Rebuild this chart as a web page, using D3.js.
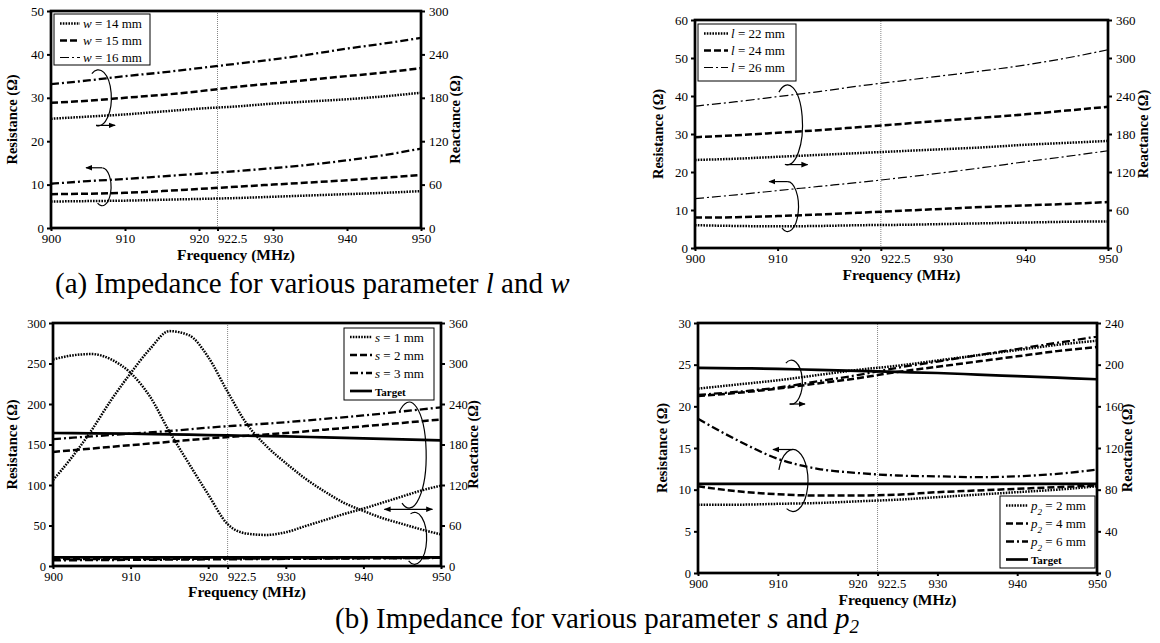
<!DOCTYPE html>
<html>
<head>
<meta charset="utf-8">
<script src="https://cdn.jsdelivr.net/npm/d3@7"></script>
<style>
  body { margin: 0; background: #fff; }
</style>
</head>
<body>
<svg id="fig" width="1160" height="643" font-family="Liberation Serif, DejaVu Serif, serif"></svg>
<script>
const FONT = 'Liberation Serif, DejaVu Serif, serif';

// frequency grids (MHz)
const freqs = [900, 905, 910, 915, 920, 925, 930, 935, 940, 945, 950];
const freqsFine = [900, 902.5, 905, 907.5, 910, 912.5, 915, 917.5, 920, 922.5, 925,
                   927.5, 930, 932.5, 935, 937.5, 940, 942.5, 945, 947.5, 950];
const xTicks = [900, 910, 920, 922.5, 930, 940, 950];

// (a) left: parameter w
const wRes14 = [6.1, 6.2, 6.3, 6.5, 6.7, 6.9, 7.2, 7.5, 7.8, 8.1, 8.5];
const wRes15 = [7.8, 7.9, 8.1, 8.5, 9.0, 9.5, 10.0, 10.5, 11.0, 11.6, 12.2];
const wRes16 = [10.2, 10.8, 11.3, 11.9, 12.5, 13.1, 13.8, 14.6, 15.6, 16.8, 18.3];
const wReact14 = [151, 154, 157, 161, 165, 168, 172, 175, 178, 182, 187];
const wReact15 = [173, 176, 180, 184, 189, 195, 200, 205, 210, 215, 221];
const wReact16 = [199, 204, 210, 215, 221, 227, 233, 240, 248, 255, 263];

// (a) right: parameter l
const lRes22 = [6.0, 5.8, 5.7, 5.8, 6.0, 6.1, 6.3, 6.5, 6.7, 6.9, 7.0];
const lRes24 = [8.0, 8.1, 8.4, 8.8, 9.3, 9.8, 10.3, 10.8, 11.2, 11.6, 12.1];
const lRes26 = [13.0, 14.0, 15.1, 16.2, 17.3, 18.5, 19.8, 21.2, 22.7, 24.1, 25.6];
const lReact22 = [139, 141, 144, 147, 150, 153, 156, 159, 163, 166, 169];
const lReact24 = [175, 178, 182, 186, 191, 196, 201, 206, 211, 217, 223];
const lReact26 = [224, 231, 239, 247, 256, 264, 272, 280, 289, 300, 313];

// (b) left: parameter s
const s1Res = [106, 135, 168, 205, 238, 268, 290, 285, 258, 215, 175,
               148, 127, 108, 92, 78, 68, 59, 52, 45, 39];
const s1React = [306, 312, 314, 306, 286, 251, 199, 152, 106, 62, 48,
                 46, 50, 59, 68, 77, 85, 94, 103, 112, 119];
const sRes2 = [8.5, 8.6, 8.7, 8.8, 9.0, 9.2, 9.3, 9.5, 9.7, 9.9, 10.1];
const sRes3 = [7.0, 7.2, 7.5, 7.8, 8.1, 8.4, 8.7, 9.0, 9.3, 9.6, 10.0];
const sReact2 = [169, 174, 179, 184, 189, 193, 197, 202, 207, 212, 217];
const sReact3 = [188, 192, 196, 200, 205, 209, 213, 218, 223, 229, 235];

// target impedance
const targetRes = [10.7, 10.7, 10.7, 10.7, 10.7, 10.7, 10.7, 10.7, 10.7, 10.7, 10.7];
const targetReact = [197, 196.5, 196, 195, 194, 193, 192, 190.5, 189, 187.5, 186];

// (b) right: parameter p2
const p2Res2 = [8.2, 8.2, 8.3, 8.4, 8.6, 8.8, 9.1, 9.4, 9.7, 10.0, 10.4];
const p2Res4 = [10.4, 9.8, 9.45, 9.3, 9.3, 9.4, 9.7, 9.9, 10.1, 10.3, 10.5];
const p2Res6 = [18.5, 15.9, 13.7, 12.5, 12.0, 11.7, 11.6, 11.5, 11.6, 11.9, 12.4];
const p2React2 = [177, 181, 185, 190, 195, 199, 204, 209, 214, 219, 223];
const p2React4 = [170, 173, 177, 182, 187, 193, 198, 203, 208, 213, 217];
const p2React6 = [171, 174, 178, 184, 190, 197, 203, 209, 215, 221, 227];

const styles = {
  dot:      { w: 2.5, dash: '1.6,1.2' },
  dash:     { w: 2.5, dash: '7,3' },
  dashdot:  { w: 2.3, dash: '8,3,2,3' },
  dashthin: { w: 1.2, dash: '9,3,2,3' },
  solid:    { w: 2.7, dash: null }
};

const svg = d3.select('#fig');

// arrow heads for the loop annotations
const defs = svg.append('defs');
defs.append('marker').attr('id', 'arr')
    .attr('viewBox', '0 0 10 10').attr('refX', 9).attr('refY', 5)
    .attr('markerWidth', 7).attr('markerHeight', 7)
    .attr('markerUnits', 'userSpaceOnUse')
    .attr('orient', 'auto-start-reverse')
  .append('path').attr('d', 'M0,1 L10,5 L0,9 z').attr('fill', '#000');

function legendLabel(t, e, size) {
  if (e.target) {
    t.attr('font-size', size - 2).attr('font-weight', 'bold').text('Target');
    return;
  }
  t.attr('font-size', size);
  t.append('tspan').attr('font-style', 'italic').text(e.sym);
  if (e.sub) t.append('tspan').attr('font-style', 'italic').attr('font-size', size * 0.7)
               .attr('baseline-shift', 'sub').text(e.sub);
  t.append('tspan').text(' = ' + e.val);
}

function drawPanel(cfg) {
  const g = svg.append('g');
  const x = d3.scaleLinear().domain([900, 950]).range([cfg.left, cfg.right]);
  const yL = d3.scaleLinear().domain([0, cfg.lMax]).range([cfg.bottom, cfg.top]);
  const yR = d3.scaleLinear().domain([0, cfg.rMax]).range([cfg.bottom, cfg.top]);

  // 922.5 MHz marker
  g.append('line')
    .attr('x1', x(922.5)).attr('x2', x(922.5))
    .attr('y1', yL(0)).attr('y2', yL(cfg.lMax))
    .attr('stroke', '#666').attr('stroke-width', 0.8)
    .attr('stroke-dasharray', '1,1');

  cfg.series.forEach(s => {
    const y = s.axis === 'R' ? yR : yL;
    const line = d3.line()
      .x((d, i) => x(s.f[i]))
      .y(d => y(d))
      .curve(d3.curveMonotoneX);
    const st = styles[s.style];
    g.append('path').datum(s.v)
      .attr('d', line)
      .attr('fill', 'none')
      .attr('stroke', '#000')
      .attr('stroke-width', st.w)
      .attr('stroke-dasharray', st.dash);
  });

  // loop annotations, placed in data units
  const pt = (L, th) => {
    const a = th * Math.PI / 180;
    return [x(L.f) + L.rx * Math.cos(a), yL(L.v) + L.ry * Math.sin(a)];
  };
  cfg.loops.forEach(L => {
    const p0 = pt(L, L.a0), p1 = pt(L, L.a1);
    const delta = ((L.a1 - L.a0) % 360 + 360) % 360;
    g.append('path')
      .attr('d', `M${p0[0]},${p0[1]} A${L.rx},${L.ry} 0 ${delta > 180 ? 1 : 0} 1 ${p1[0]},${p1[1]}`)
      .attr('fill', 'none').attr('stroke', '#000').attr('stroke-width', 1.2);
    (L.arrows || []).forEach(a => {
      const p = pt(L, a.th);
      g.append('line')
        .attr('x1', p[0]).attr('y1', p[1])
        .attr('x2', p[0] + a.dx).attr('y2', p[1])
        .attr('stroke', '#000').attr('stroke-width', 1.2)
        .attr('marker-end', 'url(#arr)');
    });
  });
  (cfg.arrows || []).forEach(a => {
    g.append('line')
      .attr('x1', x(a.f1)).attr('y1', yL(a.v)).attr('x2', x(a.f2)).attr('y2', yL(a.v))
      .attr('stroke', '#000').attr('stroke-width', 1.2)
      .attr('marker-start', 'url(#arr)').attr('marker-end', 'url(#arr)');
  });

  // frame
  g.append('rect')
    .attr('x', cfg.left).attr('y', cfg.top)
    .attr('width', cfg.right - cfg.left).attr('height', cfg.bottom - cfg.top)
    .attr('fill', 'none').attr('stroke', '#000').attr('stroke-width', 2.7);

  const fs = cfg.fontSize;
  const styleAxis = a => {
    a.attr('font-family', FONT).attr('font-size', fs);
    a.select('.domain').remove();
    a.selectAll('.tick line').attr('stroke', '#000').attr('stroke-width', 2);
    a.selectAll('.tick text').attr('fill', '#000');
  };
  g.append('g').attr('transform', `translate(${cfg.left},0)`)
    .call(d3.axisLeft(yL).tickValues(d3.range(0, cfg.lMax + 1, cfg.lStep)).tickSize(4).tickPadding(3))
    .call(styleAxis);
  g.append('g').attr('transform', `translate(${cfg.right},0)`)
    .call(d3.axisRight(yR).tickValues(d3.range(0, cfg.rMax + 1, cfg.rStep)).tickSize(4).tickPadding(4))
    .call(styleAxis);
  const xa = g.append('g').attr('transform', `translate(0,${cfg.bottom})`)
    .call(d3.axisBottom(x).tickValues(xTicks).tickFormat(d3.format('')).tickSize(3).tickPadding(3))
    .call(styleAxis);
  // 922.5 label sits just right of its marker
  xa.selectAll('.tick').filter(d => d === 922.5).select('text')
    .attr('text-anchor', 'start').attr('x', 0);

  // axis titles
  const midY = (cfg.top + cfg.bottom) / 2;
  g.append('text')
    .attr('transform', `translate(${cfg.left - cfg.lGap},${midY}) rotate(-90)`)
    .attr('text-anchor', 'middle').attr('font-weight', 'bold').attr('font-size', cfg.titleSize)
    .text('Resistance (Ω)');
  g.append('text')
    .attr('transform', `translate(${cfg.right + cfg.rGap},${midY}) rotate(-90)`)
    .attr('text-anchor', 'middle').attr('font-weight', 'bold').attr('font-size', cfg.titleSize)
    .text('Reactance (Ω)');
  g.append('text')
    .attr('x', (cfg.left + cfg.right) / 2).attr('y', cfg.bottom + cfg.freqGap)
    .attr('text-anchor', 'middle').attr('font-weight', 'bold').attr('font-size', cfg.titleSize + 1)
    .text('Frequency (MHz)');

  // legend
  const lg = cfg.legend;
  g.append('rect')
    .attr('x', lg.x).attr('y', lg.y).attr('width', lg.w).attr('height', lg.h)
    .attr('fill', '#fff').attr('stroke', '#000').attr('stroke-width', 1);
  lg.entries.forEach((e, i) => {
    const yy = lg.y + lg.pad + i * lg.row;
    const st = styles[e.style];
    g.append('line')
      .attr('x1', lg.x + 6).attr('x2', lg.x + 6 + lg.sample)
      .attr('y1', yy).attr('y2', yy)
      .attr('stroke', '#000').attr('stroke-width', st.w).attr('stroke-dasharray', st.dash);
    const t = g.append('text')
      .attr('x', lg.x + 9 + lg.sample).attr('y', yy + 4.5);
    legendLabel(t, e, lg.size);
  });
}

drawPanel({
  left: 51, right: 421, top: 11, bottom: 228,
  lMax: 50, lStep: 10, rMax: 300, rStep: 60,
  fontSize: 13, titleSize: 14.5, lGap: 34, rGap: 39, freqGap: 32,
  series: [
    { f: freqs, v: wRes14, axis: 'L', style: 'dot' },
    { f: freqs, v: wRes15, axis: 'L', style: 'dash' },
    { f: freqs, v: wRes16, axis: 'L', style: 'dashdot' },
    { f: freqs, v: wReact14, axis: 'R', style: 'dot' },
    { f: freqs, v: wReact15, axis: 'R', style: 'dash' },
    { f: freqs, v: wReact16, axis: 'R', style: 'dashdot' }
  ],
  loops: [
    { f: 906.4, v: 30, rx: 13, ry: 28, a0: 240, a1: 100, arrows: [{ th: 100, dx: 19 }] },
    { f: 906.9, v: 9.5, rx: 9, ry: 19, a0: 272, a1: 120, arrows: [{ th: 270, dx: -16 }] }
  ],
  legend: {
    x: 54, y: 14, w: 96, h: 51, pad: 9.5, row: 17, sample: 20, size: 13,
    entries: [
      { sym: 'w', val: '14 mm', style: 'dot' },
      { sym: 'w', val: '15 mm', style: 'dash' },
      { sym: 'w', val: '16 mm', style: 'dashthin' }
    ]
  }
});

drawPanel({
  left: 695, right: 1108, top: 20, bottom: 248,
  lMax: 60, lStep: 10, rMax: 360, rStep: 60,
  fontSize: 13, titleSize: 14.5, lGap: 32, rGap: 40, freqGap: 32,
  series: [
    { f: freqs, v: lRes22, axis: 'L', style: 'dot' },
    { f: freqs, v: lRes24, axis: 'L', style: 'dash' },
    { f: freqs, v: lRes26, axis: 'L', style: 'dashthin' },
    { f: freqs, v: lReact22, axis: 'R', style: 'dot' },
    { f: freqs, v: lReact24, axis: 'R', style: 'dash' },
    { f: freqs, v: lReact26, axis: 'R', style: 'dashthin' }
  ],
  loops: [
    { f: 911.2, v: 32.4, rx: 15, ry: 40, a0: 235, a1: 100, arrows: [{ th: 97, dx: 22 }] },
    { f: 911.2, v: 10.9, rx: 11, ry: 25, a0: 268, a1: 120, arrows: [{ th: 268, dx: -18 }] }
  ],
  legend: {
    x: 698, y: 24, w: 98, h: 57, pad: 9.5, row: 17, sample: 24, size: 13,
    entries: [
      { sym: 'l', val: '22 mm', style: 'dot' },
      { sym: 'l', val: '24 mm', style: 'dash' },
      { sym: 'l', val: '26 mm', style: 'dashthin' }
    ]
  }
});

drawPanel({
  left: 53, right: 441, top: 323, bottom: 566,
  lMax: 300, lStep: 50, rMax: 360, rStep: 60,
  fontSize: 12.5, titleSize: 14.5, lGap: 36, rGap: 37, freqGap: 31,
  series: [
    { f: freqs, v: targetRes, axis: 'L', style: 'solid' },
    { f: freqs, v: sRes2, axis: 'L', style: 'dash' },
    { f: freqs, v: sRes3, axis: 'L', style: 'dashdot' },
    { f: freqsFine, v: s1Res, axis: 'L', style: 'dot' },
    { f: freqsFine, v: s1React, axis: 'R', style: 'dot' },
    { f: freqs, v: sReact2, axis: 'R', style: 'dash' },
    { f: freqs, v: sReact3, axis: 'R', style: 'dashdot' },
    { f: freqs, v: targetReact, axis: 'R', style: 'solid' }
  ],
  loops: [
    { f: 945.9, v: 137, rx: 17, ry: 53, a0: 235, a1: 115 },
    { f: 946.6, v: 34.2, rx: 12, ry: 26, a0: 250, a1: 120 }
  ],
  arrows: [{ f1: 942.7, f2: 948.9, v: 70 }],
  legend: {
    x: 344, y: 328, w: 90, h: 72, pad: 9, row: 18, sample: 22, size: 13,
    entries: [
      { sym: 's', val: '1 mm', style: 'dot' },
      { sym: 's', val: '2 mm', style: 'dash' },
      { sym: 's', val: '3 mm', style: 'dashdot' },
      { target: true, style: 'solid' }
    ]
  }
});

drawPanel({
  left: 698, right: 1097, top: 323, bottom: 573,
  lMax: 30, lStep: 5, rMax: 240, rStep: 40,
  fontSize: 12.5, titleSize: 14.5, lGap: 31, rGap: 35, freqGap: 32,
  series: [
    { f: freqs, v: targetRes, axis: 'L', style: 'solid' },
    { f: freqs, v: p2Res2, axis: 'L', style: 'dot' },
    { f: freqs, v: p2Res4, axis: 'L', style: 'dash' },
    { f: freqs, v: p2Res6, axis: 'L', style: 'dashdot' },
    { f: freqs, v: targetReact, axis: 'R', style: 'solid' },
    { f: freqs, v: p2React2, axis: 'R', style: 'dot' },
    { f: freqs, v: p2React4, axis: 'R', style: 'dash' },
    { f: freqs, v: p2React6, axis: 'R', style: 'dashdot' }
  ],
  loops: [
    { f: 911.7, v: 22.9, rx: 11, ry: 22, a0: 240, a1: 100, arrows: [{ th: 97, dx: 15 }] },
    { f: 911.9, v: 11.1, rx: 15, ry: 31, a0: 200, a1: 115, arrows: [{ th: 270, dx: -20 }] }
  ],
  legend: {
    x: 1000, y: 496, w: 95, h: 72, pad: 9.5, row: 18, sample: 22, size: 13,
    entries: [
      { sym: 'p', sub: '2', val: '2 mm', style: 'dot' },
      { sym: 'p', sub: '2', val: '4 mm', style: 'dash' },
      { sym: 'p', sub: '2', val: '6 mm', style: 'dashdot' },
      { target: true, style: 'solid' }
    ]
  }
});

// captions
const capA = svg.append('text').attr('x', 55).attr('y', 293).attr('font-size', 29)
  .text('(a) Impedance for various parameter ');
capA.append('tspan').attr('font-style', 'italic').text('l');
capA.append('tspan').text(' and ');
capA.append('tspan').attr('font-style', 'italic').text('w');

const capB = svg.append('text').attr('x', 597).attr('y', 628).attr('font-size', 29)
  .attr('text-anchor', 'middle')
  .text('(b) Impedance for various parameter ');
capB.append('tspan').attr('font-style', 'italic').text('s');
capB.append('tspan').text(' and ');
capB.append('tspan').attr('font-style', 'italic').text('p');
capB.append('tspan').attr('font-style', 'italic').attr('font-size', 19)
  .attr('dy', 5).text('2');
</script>
</body>
</html>
